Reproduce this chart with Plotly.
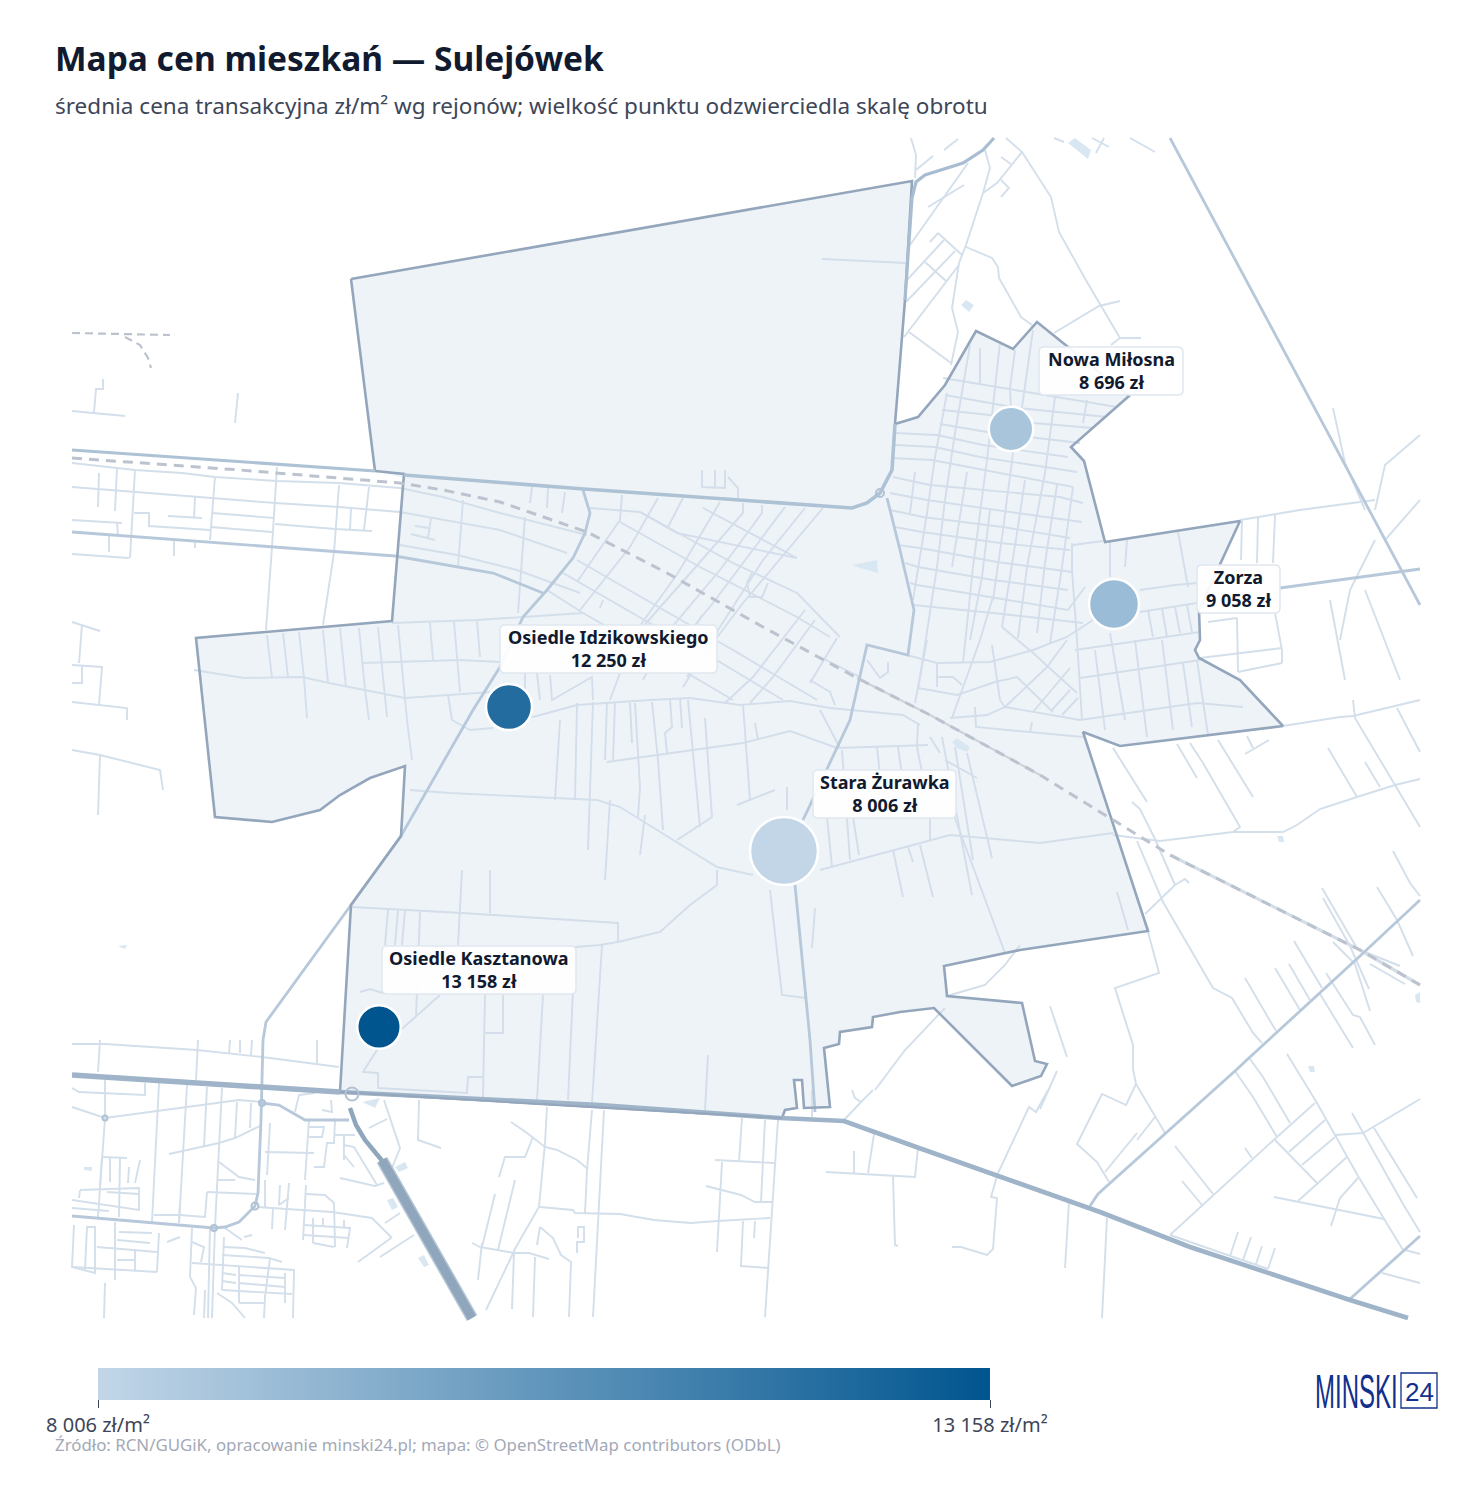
import plotly.graph_objects as go

# dane: rejony
districts = ["Nowa Miłosna", "Zorza", "Osiedle Idzikowskiego", "Stara Żurawka", "Osiedle Kasztanowa"]
prices = [8696, 9058, 12250, 8006, 13158]
point_x = [1011, 1114, 509, 784, 379]
point_y = [429, 604, 707, 851, 1027]
point_size = [44.5, 50, 46, 68, 43.5]

# mapa: granice
boundary_north = [(351, 279), (912, 181), (905, 300), (895, 424), (891, 465), (880, 493), (867, 503), (852, 508),
                  (584, 489), (404, 478), (375, 471), (351, 279)]
boundary_main = [(895, 424), (918, 417), (945, 385), (976, 331), (1013, 349), (1037, 322), (1129, 396),
                 (1071, 447), (1084, 461), (1105, 542), (1240, 521), (1222, 560), (1199, 610), (1200, 640),
                 (1195, 650), (1199, 658), (1240, 680), (1283, 726), (1120, 746), (1083, 732), (1148, 931),
                 (1020, 950), (944, 966), (947, 996), (1022, 1003), (1035, 1061), (1047, 1064), (1041, 1076),
                 (1012, 1086), (934, 1008), (900, 1012), (873, 1017), (872, 1027), (840, 1032), (839, 1044),
                 (824, 1048), (830, 1107), (804, 1108), (802, 1080), (794, 1080), (797, 1108), (785, 1110),
                 (782, 1118), (340, 1092), (351, 905), (401, 836), (405, 766), (370, 778), (340, 795),
                 (320, 810), (272, 822), (215, 817), (196, 638), (392, 621), (404, 474), (584, 489),
                 (852, 508), (867, 503), (880, 493), (891, 465), (895, 424)]

# mapa: drogi główne
road_north = [(72, 450), (375, 471), (404, 475), (584, 489), (852, 508), (867, 503), (880, 493), (892, 470), (895, 424),
              (905, 300), (912, 198), (916, 182), (925, 175), (963, 163), (983, 150), (994, 138)]
roads_mid = [
    [(72, 532), (272, 547), (395, 556), (493, 573), (543, 593)],
    [(263, 1040), (266, 1022), (351, 905), (401, 836), (473, 710), (500, 667), (523, 617), (547, 590), (573, 558), (585, 533), (590, 513), (583, 490)],
    [(887, 498), (900, 550), (914, 610), (908, 655), (867, 645), (850, 720), (803, 820)],
    [(795, 885), (810, 1040), (815, 1112)],
    [(263, 1040), (261, 1120), (258, 1193), (255, 1206), (239, 1222), (225, 1227), (214, 1228), (155, 1223), (72, 1216)],
    [(261, 1103), (279, 1105), (305, 1120), (349, 1120)],
    [(1170, 138), (1420, 605)],
    [(1090, 1206), (1098, 1194), (1235, 1071), (1250, 1057), (1360, 956), (1420, 900)],
    [(1350, 1299), (1405, 1250), (1420, 1236)],
    [(1280, 588), (1420, 569)],
]
motorway = [(72, 1075), (200, 1083), (315, 1090), (340, 1092), (600, 1105), (780, 1118), (844, 1121), (919, 1148),
            (998, 1176), (1100, 1212), (1190, 1247), (1350, 1300), (1408, 1318)]
expressway_ramp = [(350, 1108), (356, 1125), (365, 1140), (378, 1155), (384, 1163)]
expressway = [(382, 1160), (472, 1318)]
rail_main = [(72, 458), (240, 470), (400, 483), (443, 490), (500, 502), (547, 518), (587, 532), (667, 573), (763, 627),
             (857, 678), (930, 715), (1040, 775), (1170, 855), (1360, 950), (1420, 985)]
rail_side = [[(72, 333), (170, 335)], [(125, 337), (140, 345), (148, 358), (151, 368)]]

# ronda
round_x = [880, 352, 262, 214, 255, 105]
round_y = [493, 1094, 1103, 1228, 1206, 1118]
round_size = [8, 13, 6, 6, 7, 5]

# mapa: ulice
streets_west = [
    [(72, 411), (94, 413), (125, 416)], [(94, 413), (96, 389), (103, 389), (103, 379)], [(238, 393), (235, 423)],
    [(72, 463), (135, 470), (182, 473), (215, 477), (277, 481), (339, 483), (400, 488), (443, 497), (500, 513), (587, 535)],
    [(72, 487), (134, 492), (214, 498), (275, 503), (339, 507), (400, 512), (500, 530), (567, 553)],
    [(72, 520), (122, 523)], [(135, 470), (130, 558)], [(117, 468), (115, 511)], [(99, 473), (98, 507)],
    [(277, 467), (272, 547), (266, 630)], [(339, 485), (334, 553), (323, 625)], [(215, 477), (210, 540)],
    [(369, 487), (364, 530)], [(351, 509), (350, 530)], [(134, 513), (149, 513), (149, 526), (210, 530)],
    [(168, 516), (202, 518)], [(195, 497), (194, 518)], [(212, 513), (274, 518)], [(211, 527), (272, 532)],
    [(275, 524), (335, 529), (372, 531)], [(117, 522), (118, 535)], [(109, 535), (109, 552)],
    [(72, 554), (129, 558)], [(174, 540), (174, 556)], [(195, 542), (195, 548)],
    [(400, 545), (457, 555), (517, 570), (580, 593)], [(463, 500), (458, 567)], [(415, 526), (429, 528)], [(411, 534), (435, 540)],
    [(431, 518), (428, 538)], [(72, 622), (82, 625), (100, 631)], [(82, 625), (79, 663)],
    [(72, 665), (102, 667), (99, 705)], [(82, 665), (82, 683), (72, 683)], [(72, 702), (127, 708), (127, 720)],
    [(72, 750), (100, 755), (160, 770), (163, 790)], [(100, 755), (98, 815)],
    [(194, 670), (244, 678), (302, 677), (329, 683), (405, 698), (448, 695), (492, 692), (533, 717)],
    [(267, 635), (272, 678)], [(283, 633), (288, 677)], [(299, 632), (304, 678), (307, 718)], [(323, 630), (328, 683)],
    [(340, 628), (346, 687)], [(359, 628), (365, 690), (369, 720)], [(378, 627), (387, 717)], [(398, 625), (407, 720), (412, 760)],
    [(430, 623), (433, 660)], [(454, 622), (460, 692)], [(477, 620), (480, 657)], [(392, 623), (477, 620), (583, 613)],
    [(362, 663), (402, 662), (460, 660), (500, 662)], [(448, 695), (452, 720), (470, 730), (493, 728)],
    [(410, 790), (450, 793), (597, 800), (620, 807), (717, 867), (753, 875)],
]
streets_southwest = [
    [(72, 1044), (105, 1044), (197, 1050), (262, 1057), (339, 1067)], [(100, 1040), (98, 1072)], [(198, 1040), (196, 1080)],
    [(230, 1040), (229, 1053)], [(240, 1040), (240, 1053)], [(252, 1040), (251, 1055)], [(317, 1040), (317, 1063)],
    [(262, 1102), (239, 1100), (105, 1118), (72, 1107)], [(72, 1088), (79, 1092), (145, 1095), (145, 1083)],
    [(105, 1080), (105, 1118), (98, 1217)], [(159, 1083), (152, 1222)], [(187, 1085), (179, 1223)], [(207, 1087), (204, 1147)],
    [(222, 1088), (215, 1227), (212, 1318)], [(237, 1102), (235, 1138)], [(251, 1103), (250, 1128)],
    [(169, 1154), (219, 1143), (235, 1138), (260, 1126)], [(219, 1162), (239, 1177), (255, 1180)], [(217, 1180), (235, 1180)],
    [(207, 1192), (257, 1194)], [(207, 1192), (205, 1217), (180, 1215), (154, 1215)], [(180, 1203), (179, 1223)],
    [(102, 1157), (127, 1158)], [(102, 1157), (100, 1185)], [(110, 1158), (110, 1182)], [(120, 1158), (119, 1217)],
    [(129, 1167), (128, 1183)], [(140, 1160), (135, 1183)], [(80, 1190), (139, 1188), (139, 1210), (72, 1200)],
    [(107, 1192), (139, 1194)], [(72, 1208), (109, 1211)], [(80, 1190), (79, 1198)],
    [(74, 1225), (72, 1267), (95, 1273), (95, 1227), (87, 1227), (85, 1270)], [(97, 1247), (157, 1252)], [(72, 1267), (157, 1272)],
    [(115, 1222), (115, 1280)], [(105, 1283), (104, 1318)], [(119, 1232), (152, 1233)], [(117, 1240), (150, 1243)],
    [(117, 1260), (135, 1260)], [(135, 1249), (135, 1270)], [(159, 1233), (157, 1272)], [(167, 1242), (180, 1237)],
    [(192, 1228), (190, 1277), (196, 1288), (194, 1315)], [(224, 1237), (222, 1290)], [(210, 1227), (208, 1318)],
    [(192, 1242), (204, 1247), (201, 1262)], [(192, 1263), (294, 1270), (293, 1318)], [(222, 1255), (269, 1258), (282, 1262)],
    [(224, 1247), (245, 1248), (265, 1253)], [(225, 1228), (242, 1240)], [(244, 1237), (252, 1235)],
    [(239, 1267), (239, 1303)], [(270, 1258), (265, 1297), (264, 1318)], [(222, 1273), (236, 1275)], [(222, 1281), (236, 1283)],
    [(239, 1275), (285, 1278)], [(239, 1283), (285, 1287)], [(222, 1290), (292, 1294)], [(285, 1273), (285, 1303)],
    [(239, 1303), (264, 1303)], [(217, 1293), (232, 1303), (245, 1318)], [(205, 1290), (204, 1318)],
    [(270, 1123), (267, 1175)], [(265, 1152), (314, 1153)], [(309, 1120), (305, 1180)],
    [(309, 1137), (322, 1137), (324, 1127), (309, 1127)], [(335, 1120), (334, 1143), (327, 1143), (324, 1167), (314, 1167)],
    [(322, 1110), (332, 1112), (331, 1100)], [(295, 1112), (299, 1095), (315, 1093)], [(335, 1135), (355, 1135)],
    [(344, 1135), (344, 1160)], [(344, 1145), (354, 1147), (377, 1185)], [(344, 1155), (354, 1167)],
    [(340, 1178), (375, 1186), (384, 1183)], [(265, 1180), (265, 1207)], [(280, 1185), (279, 1205), (289, 1198)],
    [(289, 1183), (285, 1230)], [(273, 1208), (272, 1229)], [(257, 1207), (332, 1212), (372, 1218), (392, 1238)],
    [(306, 1185), (303, 1240)], [(306, 1194), (325, 1195), (334, 1203), (335, 1247)], [(304, 1225), (350, 1228), (347, 1248)],
    [(304, 1235), (349, 1238)], [(313, 1243), (334, 1247)], [(313, 1218), (313, 1243)], [(323, 1218), (323, 1225)],
    [(344, 1220), (344, 1228)], [(391, 1238), (358, 1262)], [(380, 1257), (414, 1235)], [(385, 1223), (400, 1213)],
    [(384, 1100), (400, 1148), (392, 1168)], [(369, 1128), (387, 1119)], [(419, 1100), (418, 1140), (441, 1148)],
    [(472, 1243), (482, 1248)], [(482, 1243), (478, 1280)],
]
streets_south = [
    [(547, 1107), (545, 1143), (539, 1207), (516, 1247), (486, 1310)], [(592, 1110), (587, 1170), (585, 1213)], [(604, 1110), (593, 1317)],
    [(511, 1122), (527, 1133), (545, 1147), (557, 1150), (577, 1160), (588, 1169)], [(533, 1137), (525, 1157), (505, 1157), (499, 1177)],
    [(515, 1180), (498, 1250)], [(495, 1194), (482, 1247)],
    [(540, 1207), (573, 1210), (575, 1213), (620, 1214), (654, 1220), (691, 1223), (717, 1221), (770, 1218)],
    [(540, 1227), (537, 1245)], [(540, 1227), (553, 1238), (561, 1255), (571, 1262), (569, 1317)],
    [(480, 1247), (514, 1253), (529, 1253), (549, 1259)], [(514, 1253), (512, 1309)], [(535, 1257), (533, 1317)],
    [(578, 1238), (578, 1227), (584, 1227), (584, 1242), (577, 1242), (577, 1253)], [(742, 1118), (739, 1162)], [(765, 1120), (761, 1202)],
    [(778, 1120), (765, 1317)], [(715, 1160), (749, 1162), (774, 1163)], [(722, 1162), (717, 1252)],
    [(706, 1186), (741, 1195), (755, 1202), (772, 1202)], [(743, 1221), (741, 1266), (769, 1268)], [(755, 1221), (754, 1238)],
    [(854, 1151), (854, 1173)], [(874, 1134), (868, 1173)], [(826, 1172), (915, 1177), (918, 1148)], [(893, 1176), (895, 1245), (898, 1246)],
    [(952, 1247), (961, 1247), (987, 1255), (993, 1249), (997, 1198), (991, 1197), (998, 1173), (1029, 1107), (1036, 1112), (1048, 1090)],
    [(1069, 1202), (1065, 1268)], [(1107, 1218), (1102, 1318)], [(852, 1090), (855, 1098), (861, 1102), (873, 1090)],
    [(861, 1102), (848, 1115), (844, 1120)], [(812, 1090), (812, 1117)], [(1050, 1006), (1067, 1057)], [(1057, 1071), (1040, 1109)],
    [(945, 1008), (905, 1050), (875, 1090)],
]
streets_east = [
    [(1283, 726), (1340, 717), (1353, 716), (1420, 700)], [(1353, 700), (1355, 718), (1395, 785), (1420, 827)],
    [(1397, 708), (1420, 752)], [(1328, 748), (1357, 797)], [(1365, 762), (1380, 787)],
    [(1113, 835), (1160, 841), (1233, 832), (1283, 832), (1297, 825), (1320, 809), (1357, 797), (1395, 785), (1420, 779)],
    [(1218, 740), (1253, 797)], [(1190, 743), (1203, 763), (1240, 827), (1233, 832)], [(1177, 744), (1197, 778)],
    [(1247, 736), (1253, 748)], [(1245, 754), (1269, 740)], [(1113, 748), (1147, 802)],
    [(1132, 802), (1140, 809), (1155, 839), (1175, 885)],
    [(1137, 841), (1163, 902), (1213, 988), (1232, 998), (1253, 1033), (1262, 1043)],
    [(1145, 914), (1175, 885), (1185, 879), (1189, 883)],
    [(1148, 932), (1159, 973), (1115, 988), (1133, 1045), (1133, 1069), (1136, 1084), (1165, 1133)],
    [(1136, 1084), (1126, 1105), (1102, 1094), (1077, 1144), (1097, 1162), (1109, 1182)],
    [(1105, 1172), (1137, 1133)], [(1137, 1140), (1155, 1117)], [(1245, 978), (1276, 1031)], [(1275, 968), (1300, 1010)],
    [(1289, 964), (1310, 1000)], [(1294, 941), (1322, 988)], [(1322, 888), (1358, 950)], [(1323, 898), (1350, 946), (1369, 989)],
    [(1333, 942), (1355, 964), (1370, 1011)], [(1326, 973), (1353, 1015), (1360, 1017), (1375, 1045)], [(1320, 994), (1353, 1048)],
    [(1377, 887), (1397, 920), (1413, 956)], [(1393, 851), (1410, 883), (1420, 896)], [(1360, 950), (1400, 966)], [(1370, 964), (1405, 984)],
    [(1235, 1071), (1250, 1093), (1253, 1097), (1277, 1137)], [(1250, 1059), (1263, 1077), (1290, 1123)],
    [(1287, 1054), (1317, 1103), (1335, 1135), (1358, 1176), (1403, 1250)], [(1315, 1103), (1277, 1137), (1170, 1235)],
    [(1325, 1120), (1289, 1152)], [(1335, 1137), (1302, 1165)], [(1347, 1157), (1298, 1201)], [(1275, 1140), (1317, 1183)],
    [(1274, 1197), (1384, 1219)], [(1358, 1178), (1340, 1198), (1331, 1226)], [(1335, 1135), (1363, 1133), (1420, 1099)],
    [(1352, 1113), (1403, 1204), (1420, 1232)], [(1374, 1128), (1417, 1198)], [(1405, 1250), (1420, 1254)], [(1382, 1273), (1420, 1283)],
    [(1175, 1146), (1213, 1194)], [(1182, 1181), (1202, 1205)], [(1245, 1148), (1252, 1158)], [(1238, 1232), (1230, 1256)],
    [(1251, 1237), (1243, 1260)], [(1262, 1246), (1256, 1264)], [(1275, 1248), (1268, 1269)], [(1170, 1235), (1268, 1269)],
    [(1240, 520), (1300, 510), (1375, 500)], [(1242, 520), (1241, 560)], [(1258, 518), (1257, 563)], [(1275, 515), (1273, 563)],
    [(1275, 613), (1282, 650), (1282, 663)], [(1200, 658), (1282, 648)], [(1238, 672), (1282, 663)], [(1208, 622), (1237, 618)],
    [(1237, 618), (1238, 672)], [(1333, 408), (1345, 463), (1365, 510)], [(1375, 510), (1385, 465), (1420, 435)],
    [(1340, 640), (1350, 590), (1375, 540)], [(1420, 500), (1385, 540)], [(1330, 600), (1345, 680)], [(1365, 590), (1400, 680)],
]
streets_northeast = [
    [(911, 138), (916, 155), (915, 178)], [(916, 170), (933, 156)], [(944, 150), (958, 139)], [(928, 207), (964, 185)], [(910, 245), (968, 163)],
    [(985, 150), (990, 168), (983, 193), (966, 245), (959, 263), (952, 308), (958, 332), (951, 365)],
    [(983, 193), (997, 183), (1022, 152), (1006, 138)], [(1001, 157), (1011, 164)], [(1001, 180), (1009, 188), (1001, 197)],
    [(1022, 152), (1051, 197), (1059, 232), (1087, 282), (1120, 338), (1111, 345)], [(1120, 338), (1141, 338)],
    [(1054, 333), (1099, 306), (1120, 301)], [(966, 247), (992, 258), (998, 267), (999, 278), (1021, 317), (1032, 325)],
    [(938, 233), (962, 255)], [(930, 242), (938, 233)], [(944, 240), (907, 280)], [(955, 251), (906, 302)], [(959, 265), (904, 337)],
    [(925, 262), (946, 281)], [(909, 332), (951, 363)], [(822, 259), (906, 263)], [(1054, 138), (1064, 142)], [(1092, 138), (1109, 147)],
    [(1104, 138), (1096, 153)], [(1130, 138), (1155, 152)],
]
streets_grid = [
    [(947, 393), (935, 457), (927, 513), (913, 600)], [(970, 345), (955, 433), (945, 500), (937, 567), (918, 690)], [(980, 348), (980, 383)],
    [(1000, 343), (995, 387), (987, 460), (973, 567), (963, 663)], [(1015, 350), (1010, 388), (1013, 453), (1003, 530), (993, 600)],
    [(1033, 330), (1022, 407)], [(1055, 397), (1045, 473), (1027, 567), (1018, 638)], [(1087, 400), (1083, 423)],
    [(1073, 487), (1062, 567), (1050, 643)], [(1057, 485), (1045, 563), (1037, 633)], [(1025, 480), (1017, 533), (1002, 627)],
    [(967, 472), (952, 567)], [(990, 510), (982, 577), (970, 640)], [(915, 472), (910, 513)],
    [(943, 378), (997, 387), (1055, 397), (1117, 407)], [(945, 395), (1018, 408), (1107, 417)], [(942, 410), (990, 415), (1033, 423), (1093, 428)],
    [(940, 424), (987, 432), (1080, 443)], [(895, 433), (937, 435), (983, 445), (1068, 457)], [(895, 445), (935, 447), (980, 457), (1077, 472)],
    [(892, 458), (932, 460), (1073, 487)], [(893, 477), (930, 485), (1060, 497), (1083, 503)], [(890, 493), (927, 500), (1017, 513), (1082, 522)],
    [(890, 510), (923, 517), (1003, 527), (1070, 538)], [(895, 527), (922, 532), (1000, 543), (1070, 550)], [(898, 545), (920, 548), (997, 562), (1072, 572)],
    [(905, 563), (918, 567), (993, 580), (1068, 590)], [(910, 583), (917, 585), (990, 597), (1068, 610), (1085, 587)], [(913, 605), (993, 613), (1083, 623)],
    [(880, 648), (907, 655), (937, 663), (990, 662), (1033, 650), (1067, 637), (1093, 620)], [(1002, 627), (1032, 652), (1077, 693)],
    [(992, 645), (1000, 700), (1005, 707), (1047, 667), (1067, 640)], [(993, 597), (980, 640), (952, 718)],
    [(918, 688), (957, 695), (995, 682), (1017, 677), (1053, 712)], [(1070, 668), (1033, 712)], [(1070, 690), (1052, 710)], [(1078, 698), (1062, 715)],
    [(950, 718), (987, 715), (1005, 707), (1080, 720), (1197, 703), (1243, 707)], [(975, 707), (976, 727), (1083, 737)], [(1032, 722), (1030, 732)],
    [(937, 663), (937, 687)], [(937, 677), (953, 677), (962, 685)], [(927, 640), (918, 688), (915, 703)], [(888, 662), (888, 672), (880, 678), (867, 660)],
    [(1073, 545), (1103, 541)], [(1110, 542), (1110, 577)], [(1127, 540), (1125, 567)], [(1178, 532), (1188, 587)], [(1140, 590), (1175, 585), (1197, 583)],
    [(1140, 612), (1197, 603)], [(1075, 650), (1200, 632)], [(1080, 678), (1200, 660)], [(1148, 610), (1153, 637)], [(1162, 608), (1167, 637)],
    [(1175, 607), (1180, 633)], [(1187, 605), (1192, 632)], [(1110, 633), (1125, 720)], [(1095, 650), (1105, 730)], [(1135, 640), (1147, 737)],
    [(1162, 640), (1173, 730)], [(1183, 663), (1192, 727)], [(1197, 660), (1208, 735)], [(1072, 543), (1072, 570), (1077, 640), (1082, 720)],
]
streets_center = [
    [(533, 717), (577, 705), (650, 700), (690, 698), (740, 705), (790, 701), (830, 708), (903, 715), (920, 725)],
    [(607, 762), (743, 743), (790, 731), (837, 748), (928, 745)], [(820, 870), (950, 835), (1040, 843), (1113, 833)],
    [(717, 870), (717, 885), (690, 905), (660, 932), (618, 942)], [(577, 703), (575, 800)], [(593, 702), (588, 850)], [(607, 702), (605, 760)],
    [(615, 702), (613, 760)], [(630, 703), (632, 743)], [(635, 703), (640, 787), (638, 817)], [(652, 702), (658, 760), (663, 830)],
    [(670, 700), (672, 727), (665, 733), (667, 753)], [(680, 698), (682, 728)], [(688, 700), (700, 827)], [(705, 718), (712, 817), (677, 840)],
    [(743, 705), (750, 800)], [(755, 723), (758, 740)], [(737, 805), (775, 790)], [(787, 787), (787, 810)],
    [(827, 817), (832, 867)], [(842, 750), (850, 860)], [(853, 817), (859, 855)], [(877, 747), (884, 813)], [(898, 747), (902, 775)],
    [(918, 723), (917, 747), (930, 813), (930, 840)], [(930, 737), (940, 753)], [(942, 737), (972, 895)], [(955, 747), (973, 860)], [(967, 753), (992, 858)],
    [(953, 813), (1005, 953)], [(945, 760), (977, 778)], [(893, 850), (903, 897)], [(908, 847), (913, 862)], [(920, 845), (933, 897)], [(1117, 892), (1128, 930)],
    [(820, 710), (840, 748)], [(560, 720), (555, 800)], [(610, 800), (605, 880)], [(645, 815), (640, 855)],
    [(770, 890), (782, 995), (806, 998)], [(815, 908), (812, 948)],
    [(547, 590), (583, 613), (677, 667), (733, 700)], [(563, 573), (667, 633), (700, 650), (783, 700)], [(577, 560), (663, 610), (733, 650), (817, 700)],
    [(620, 522), (700, 567), (797, 617), (830, 637)], [(642, 513), (733, 563), (797, 593), (840, 637)], [(590, 508), (640, 512), (677, 533), (797, 558)],
    [(703, 508), (797, 558)], [(823, 508), (743, 603), (687, 677)], [(805, 508), (763, 560), (720, 627), (683, 687)],
    [(785, 507), (743, 563), (713, 603), (660, 667)], [(762, 505), (762, 513), (720, 570), (667, 633), (643, 680)],
    [(743, 503), (743, 513), (693, 570), (640, 630)], [(720, 502), (678, 573), (613, 663)], [(683, 498), (668, 527)],
    [(658, 498), (630, 547), (580, 610)], [(622, 495), (620, 520), (577, 582)], [(565, 492), (562, 513)], [(548, 488), (547, 508)], [(532, 487), (530, 503)],
    [(525, 517), (518, 613)], [(805, 610), (753, 677), (725, 703)], [(815, 620), (773, 677), (750, 703)], [(837, 638), (810, 683)],
    [(702, 615), (692, 633)], [(603, 600), (600, 608)], [(702, 470), (702, 487), (725, 488), (725, 470)], [(715, 470), (715, 488)],
    [(728, 477), (738, 488), (738, 498)], [(752, 573), (747, 583), (750, 597), (762, 597), (768, 583)],
    [(525, 673), (525, 697)], [(537, 673), (540, 700)], [(550, 675), (552, 700), (592, 677), (593, 700)], [(610, 700), (620, 673)],
    [(820, 657), (860, 677)], [(810, 680), (830, 692), (835, 705)],
]
streets_lower = [
    [(352, 907), (462, 913), (618, 923), (618, 942), (600, 945), (575, 947)], [(462, 870), (458, 945)], [(490, 870), (490, 913)],
    [(388, 910), (385, 945)], [(398, 910), (395, 945)], [(405, 910), (402, 945)], [(420, 912), (416, 1017)], [(485, 995), (483, 1097)],
    [(503, 995), (503, 1033), (485, 1033)], [(543, 995), (537, 1100)], [(575, 947), (568, 1100)], [(602, 945), (592, 1103)],
    [(440, 995), (403, 1028), (377, 1050), (363, 1072), (378, 1073), (378, 1088), (467, 1093), (468, 1077), (483, 1077)],
    [(360, 992), (370, 989), (383, 993)], [(708, 1055), (705, 1110)], [(947, 996), (985, 985), (1005, 965), (1020, 945)],
]

# mapa: woda
water = [
    [(1068, 143), (1075, 138), (1091, 150), (1088, 159)], [(852, 565), (877, 560), (878, 573), (860, 568)],
    [(952, 742), (957, 738), (970, 747), (967, 752), (957, 748)], [(961, 305), (966, 300), (974, 305), (969, 312)],
    [(362, 1102), (380, 1098), (375, 1108)], [(395, 1167), (405, 1162), (408, 1168), (399, 1172)], [(387, 1200), (393, 1198), (398, 1207), (392, 1210)],
    [(418, 1258), (424, 1255), (429, 1265), (424, 1267)], [(84, 1167), (92, 1167), (92, 1171), (84, 1170)],
    [(118, 946), (127, 945), (125, 949)], [(1277, 836), (1283, 836), (1284, 842), (1279, 842)],
    [(1308, 1066), (1314, 1066), (1315, 1072), (1310, 1072)], [(1415, 995), (1420, 992), (1420, 1003), (1416, 1002)],
]

# skala
bar_ticks = [8006, 13158]
bar_labels = ["8 006 zł/m²", "13 158 zł/m²"]


def flat(lines):
    xs, ys = [], []
    for line in lines:
        xs += [p[0] for p in line] + [None]
        ys += [p[1] for p in line] + [None]
    return xs, ys


def add_lines(fig, lines, color, width, dash=None):
    xs, ys = flat(lines)
    fig.add_trace(go.Scatter(x=xs, y=ys, mode='lines', hoverinfo='skip', showlegend=False,
                             line=dict(color=color, width=width, dash=dash)))


def rounded_box(x0, y0, x1, y1, r=5):
    return (f"M{x0+r},{y0} L{x1-r},{y0} Q{x1},{y0} {x1},{y0+r} L{x1},{y1-r} Q{x1},{y1} {x1-r},{y1} "
            f"L{x0+r},{y1} Q{x0},{y1} {x0},{y1-r} L{x0},{y0+r} Q{x0},{y0} {x0+r},{y0} Z")


text_dark = '#111a2e'
text_sub = '#3d4658'
text_muted = '#a3a9b6'
logo_blue = '#12308c'
font_main = 'Noto Sans'

fig = go.Figure()

# wypełnienie rejonów i woda
for poly in [boundary_north, boundary_main]:
    xs, ys = flat([poly])
    fig.add_trace(go.Scatter(x=xs[:-1], y=ys[:-1], mode='lines', fill='toself', fillcolor='#eef3f8',
                             line=dict(width=0), hoverinfo='skip', showlegend=False))
xs, ys = flat(water)
fig.add_trace(go.Scatter(x=xs, y=ys, mode='lines', fill='toself', fillcolor='#d9e7f2', line=dict(width=0),
                         hoverinfo='skip', showlegend=False))

# ulice
add_lines(fig, streets_west + streets_southwest + streets_south + streets_east + streets_northeast, '#d3dfea', 1.9)
add_lines(fig, streets_grid + streets_center + streets_lower, '#d3deea', 1.9)

# drogi
add_lines(fig, [rail_main[9:12]], '#ccd2db', 2)
add_lines(fig, [rail_main[12:]], '#d5dde6', 3.2)
add_lines(fig, roads_mid, '#b6c8da', 2.8)
add_lines(fig, [boundary_north[:4], boundary_main[:-6] + [(375, 471)], boundary_north[-2:]], '#94a6bc', 2.6)
add_lines(fig, [road_north[2:9]], '#adc2d4', 3.6)
add_lines(fig, [road_north[:2]], '#adc2d4', 3.2)
add_lines(fig, [road_north[9:]], '#a9bdd1', 3.2)
add_lines(fig, [motorway[:4]], '#9fb4c9', 5.5)
add_lines(fig, [motorway[3:]], '#9fb4c9', 4.6)
add_lines(fig, [boundary_main[42:44]], '#94a6bc', 2)
add_lines(fig, [expressway], '#b3c4d4', 12)
add_lines(fig, [expressway], '#90a6bc', 9)
add_lines(fig, [expressway_ramp], '#90a6bc', 4.5)
add_lines(fig, [rail_main], '#bcc3cf', 3, dash='10px,7px')
add_lines(fig, rail_side, '#bcc3cf', 2.2, dash='8px,5px')

# ronda
fig.add_trace(go.Scatter(x=round_x, y=round_y, mode='markers', showlegend=False, hoverinfo='skip',
                         marker=dict(symbol='circle-open', size=round_size, color='#b0c3d5', opacity=1, line=dict(width=2))))

# punkty z ceną, skala kolorów przez colorbar
fig.add_trace(go.Scatter(
    x=point_x, y=point_y, mode='markers', showlegend=False, hoverinfo='skip',
    marker=dict(size=point_size, opacity=1, color=prices, cmin=bar_ticks[0], cmax=bar_ticks[1],
                colorscale=[[0, '#c2d6e8'], [1, '#00558f']], line=dict(color='white', width=2.5),
                colorbar=dict(orientation='h', x=98 / 1481, xanchor='left', y=1 - 1438 / 1499, yanchor='bottom',
                              lenmode='pixels', len=892, thicknessmode='pixels', thickness=32, xpad=0, ypad=0,
                              outlinewidth=0, tickvals=bar_ticks, ticktext=bar_labels, ticks='outside',
                              ticklen=8, tickwidth=1, tickcolor=text_sub,
                              tickfont=dict(family=font_main, size=20, color=text_sub))),
))

# etykiety punktów
label_boxes = [(1039, 347, 1183, 395), (1197, 565, 1280, 613), (500, 625, 717, 673), (813, 770, 956, 818), (382, 946, 576, 994)]
shapes = [dict(type='path', path=rounded_box(*b), fillcolor='rgba(255,255,255,0.92)', line=dict(color='#dfe7f0', width=1.5),
               xref='x', yref='y', layer='above') for b in label_boxes]
annotations = []
for name, price, b in zip(districts, prices, label_boxes):
    price_txt = f"{price:,}".replace(',', ' ')
    annotations.append(dict(x=(b[0] + b[2]) / 2, y=(b[1] + b[3]) / 2 - 1, xref='x', yref='y', showarrow=False,
                            text=f"<b>{name}<br>{price_txt} zł</b>",
                            font=dict(family=font_main, size=18, color=text_dark)))

# tytuł, podtytuł, źródło, logo
for txt, x, y, size, color in [
    ("<b>Mapa cen mieszkań — Sulejówek</b>", 53, 58, 33.5, text_dark),
    ("średnia cena transakcyjna zł/m² wg rejonów; wielkość punktu odzwierciedla skalę obrotu", 53, 105, 22.5, text_sub),
    ("Źródło: RCN/GUGiK, opracowanie minski24.pl; mapa: © OpenStreetMap contributors (ODbL)", 53, 1444, 16.85, text_muted),
]:
    annotations.append(dict(x=x, y=y, xref='x', yref='y', xanchor='left', showarrow=False, text=txt,
                            font=dict(family=font_main, size=size, color=color)))
annotations.append(dict(x=1356, y=1399, xref='x', yref='y', showarrow=False, text="MINSKI",
                        font=dict(family='Liberation Sans', size=24, color=logo_blue)))
annotations.append(dict(x=1419, y=1392, xref='x', yref='y', showarrow=False, text="24",
                        font=dict(family='Liberation Sans', size=26, color=logo_blue)))
shapes.append(dict(type='rect', x0=1401, x1=1437, y0=1373, y1=1408, xref='x', yref='y',
                   line=dict(color=logo_blue, width=1.3)))

fig.update_layout(
    width=1481, height=1499, margin=dict(l=0, r=0, t=0, b=0),
    paper_bgcolor='white', plot_bgcolor='white',
    xaxis=dict(range=[0, 1481], visible=False, fixedrange=True),
    yaxis=dict(range=[1499, 0], visible=False, fixedrange=True),
    shapes=shapes, annotations=annotations,
)

# litery logo są wysokie i wąskie: rozciągnięcie w pionie od linii bazowej
post = """
document.body.style.margin = '0';
document.querySelectorAll('.annotation-text').forEach(function (t) {
  if (t.textContent === 'MINSKI') {
    var y = parseFloat(t.getAttribute('y')) || 0, k = 2.02;
    t.setAttribute('transform', 'translate(0,' + (y * (1 - k)) + ') scale(1,' + k + ')');
  }
});
"""
fig.write_html("out.html", post_script=post, config=dict(displayModeBar=False))
